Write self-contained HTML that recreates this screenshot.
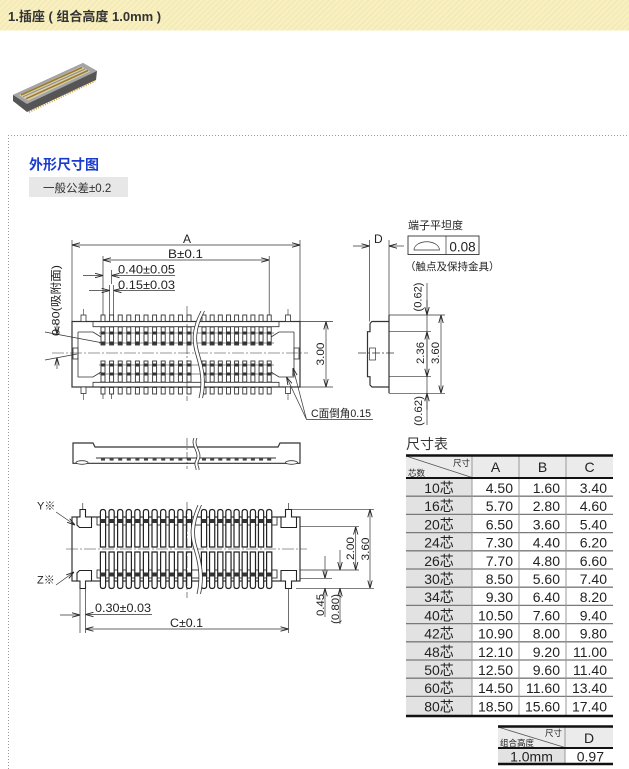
<!DOCTYPE html>
<html><head><meta charset="utf-8">
<style>
html,body{margin:0;padding:0;background:#fff;width:629px;height:769px;overflow:hidden}
svg{display:block}
.s{font-family:"Liberation Sans","Noto Sans CJK SC",sans-serif}
.m{font-family:"Liberation Sans","Noto Sans CJK SC",sans-serif}
</style></head><body>
<svg width="629" height="769" viewBox="0 0 629 769" xmlns="http://www.w3.org/2000/svg">
<defs>
<marker id="a" viewBox="0 0 8 6" refX="8" refY="3" markerWidth="8" markerHeight="6" markerUnits="userSpaceOnUse" orient="auto-start-reverse"><path d="M0,0.8 L8,3 L0,5.2" fill="none" stroke="#222" stroke-width="0.9"/></marker>
<pattern id="hs" width="4" height="4" patternUnits="userSpaceOnUse" patternTransform="rotate(45)"><rect width="4" height="4" fill="#f8f0c2"/><rect width="1.5" height="4" fill="#f3e9b3"/></pattern>
<g id="tp">
 <g fill="#fff" stroke="#333" stroke-width="0.9">
 <rect x="-2" y="315" width="4" height="6.5"/>
 <rect x="-2" y="327" width="4" height="18"/>
 <rect x="-2" y="361" width="4" height="21"/>
 <rect x="-2" y="387.5" width="4" height="6.5"/>
 </g>
 <g fill="#333">
 <rect x="-1.8" y="331.5" width="3.6" height="3"/>
 <rect x="-1.8" y="341.5" width="3.6" height="3"/>
 <rect x="-1.8" y="363.5" width="3.6" height="3"/>
 <rect x="-1.8" y="372.5" width="3.6" height="3"/>
 </g>
</g>
<g id="bp">
 <g fill="#fff" stroke="#222" stroke-width="1.2">
 <path d="M-2.6,547 V512 Q-2.6,509.5 0,509.5 Q2.6,509.5 2.6,512 V547 Z"/>
 <path d="M-2.6,552 V586 Q-2.6,588.5 0,588.5 Q2.6,588.5 2.6,586 V552 Z"/>
 </g>
 <g fill="#333">
 <rect x="-2.6" y="519" width="5.2" height="4"/>
 <rect x="-2.6" y="572.5" width="5.2" height="4"/>
 </g>
</g>
<g id="mp"><rect x="-2" y="458" width="4" height="2.6" fill="#444"/></g>
</defs>

<!-- header -->
<rect x="0" y="0" width="629" height="30.5" fill="url(#hs)"/>
<text x="8" y="21" class="s" font-size="13" font-weight="bold" fill="#333">1.插座 ( 组合高度 1.0mm )</text>

<!-- product image -->
<polygon points="13,95 83,63 97,71 96,80 27,112 13,101" fill="#555"/>
<polygon points="13,95 83,63 97,71 27,104" fill="#a5a5a5"/>
<polygon points="19,95 81,66.5 90,71.5 28,100.5" fill="#d9d0aa"/>
<path d="M21,95 L82,67.5" stroke="#9c7a2e" stroke-width="1.6"/>
<path d="M23,96.8 L85,69" stroke="#888" stroke-width="1"/>
<path d="M26,98.8 L88,70.5" stroke="#9c7a2e" stroke-width="1.6"/>
<path d="M29,112 L95,81" stroke="#c9a040" stroke-width="2" stroke-dasharray="1,1.5"/>

<!-- dotted frame -->
<path d="M8.5,769 V135.5 H629" fill="none" stroke="#999" stroke-width="1" stroke-dasharray="1,2"/>
<text x="29" y="169.5" class="s" font-size="14" font-weight="bold" fill="#1a3ccc">外形尺寸图</text>
<rect x="29" y="177" width="99" height="20" fill="#e7e7e7"/>
<text x="43" y="192" class="s" font-size="11.5" fill="#333">一般公差±0.2</text>

<!-- ================= TOP VIEW ================= -->
<g fill="none" stroke="#333" stroke-width="0.8">
 <rect x="72" y="321.5" width="228" height="65.5" stroke-width="1.2"/>
 <path d="M93,321.5 V326.7 H279 V321.5 M93,387 V382.3 H279 V387"/>
 <path d="M78,332 H93 L101,337 M78,332 V377 H93 L101,372"/>
 <path d="M294,332 H279 L271,337 M294,332 V377 H279 L271,372"/>
 <rect x="73" y="348" width="5" height="11"/>
 <rect x="294" y="348" width="5" height="11"/>
 <path d="M99,333 H274 M99,343 H274 M99,365 H274 M99,374 H274" stroke="#666"/>
</g>
<use href="#tp" x="103"/><use href="#tp" x="111.6"/><use href="#tp" x="120.2"/><use href="#tp" x="128.8"/><use href="#tp" x="137.4"/><use href="#tp" x="146"/><use href="#tp" x="154.6"/><use href="#tp" x="163.2"/><use href="#tp" x="171.8"/><use href="#tp" x="180.4"/><use href="#tp" x="189"/>
<use href="#tp" x="204"/><use href="#tp" x="212.15"/><use href="#tp" x="220.3"/><use href="#tp" x="228.45"/><use href="#tp" x="236.6"/><use href="#tp" x="244.75"/><use href="#tp" x="252.9"/><use href="#tp" x="261.05"/><use href="#tp" x="269.2"/>
<g fill="#fff" stroke="#333" stroke-width="0.8">
 <rect x="81" y="315" width="5" height="6.5"/><rect x="81" y="387" width="5" height="6.5"/>
 <rect x="285.5" y="315" width="5" height="6.5"/><rect x="285.5" y="387" width="5" height="6.5"/>
</g>
<path d="M83.5,309 V315 M83.5,393.5 V400 M288,309 V315 M288,393.5 V400" stroke="#333" stroke-width="0.6"/>
<path d="M52,353 H308 M187,306 V401" stroke="#333" stroke-width="0.6" stroke-dasharray="12,2,2,2" fill="none"/>
<path d="M201,311 C191,330 192,342 196,355 C200,368 203,382 199,398 L202.5,398 C206.5,382 203.5,368 199.5,355 C195.5,342 194.5,330 204.5,311 Z" fill="#fff"/>
<path d="M201,311 C191,330 192,342 196,355 C200,368 203,382 199,398 M204.5,311 C194.5,330 195.5,342 199.5,355 C203.5,368 206.5,382 202.5,398" fill="none" stroke="#333" stroke-width="0.8"/>

<!-- top view dims -->
<g stroke="#333" stroke-width="0.7" fill="none">
 <path d="M72,240 V321 M300,240 V321"/>
 <path d="M72,245 H300" marker-start="url(#a)" marker-end="url(#a)"/>
 <path d="M103,256 V315 M269.2,256 V315 M103,394 V399 M111.6,394 V399"/>
 <path d="M103,260 H269.2" marker-start="url(#a)" marker-end="url(#a)"/>
 <path d="M111.6,270 V284"/>
 <path d="M83,275.5 H103" marker-end="url(#a)"/>
 <path d="M175,275.5 H111.6" marker-end="url(#a)"/>
 <path d="M109.6,285 V315 M113.6,285 V315"/>
 <path d="M89,290.5 H109.6" marker-end="url(#a)"/>
 <path d="M175,290.5 H113.6" marker-end="url(#a)"/>
 <path d="M45,332 L103,343 M45,360 L77,354"/>
 <path d="M57,323 V334.3" marker-end="url(#a)"/>
 <path d="M57,369 V357.7" marker-end="url(#a)"/>
 <path d="M300,321.5 H333 M300,387 H333"/>
 <path d="M326,321.5 V387" marker-start="url(#a)" marker-end="url(#a)"/>
 <path d="M373,419.5 H306.5"/>
 <path d="M306.5,419.5 L293,368" marker-end="url(#a)"/>
 <path d="M306.5,419.5 L286.5,377" marker-end="url(#a)"/>
</g>
<g fill="#222">
 <text x="183" y="243" class="s" font-size="12">A</text>
 <text x="168" y="258" class="s" font-size="12" textLength="35" lengthAdjust="spacingAndGlyphs">B±0.1</text>
 <text x="118" y="273.5" class="m" font-size="11.5" textLength="57" lengthAdjust="spacingAndGlyphs">0.40±0.05</text>
 <text x="118" y="289" class="m" font-size="11.5" textLength="57" lengthAdjust="spacingAndGlyphs">0.15±0.03</text>
 <text transform="translate(59.5,336) rotate(-90)" class="m" font-size="11" textLength="71" lengthAdjust="spacingAndGlyphs">0.80(吸附面)</text>
 <text transform="translate(324,354) rotate(-90)" class="m" font-size="11" text-anchor="middle" textLength="23" lengthAdjust="spacingAndGlyphs">3.00</text>
 <text x="311" y="417" class="m" font-size="11" textLength="60" lengthAdjust="spacingAndGlyphs">C面倒角0.15</text>
</g>

<!-- ================= SIDE VIEW ================= -->
<g stroke="#333" stroke-width="0.7" fill="none">
 <path d="M369.5,240 V321.5 M389,240 V315"/>
 <path d="M353,246 H369.5" marker-end="url(#a)"/>
 <path d="M404,246 H389" marker-end="url(#a)"/>
 <path d="M370,323.5 L372,321.5 H389 M389,315 V393.3 M389,387 H372 L370,385 V376.7 H367.5 V331.7 H370 V323.5" stroke-width="1.2"/>
 <rect x="369.5" y="348" width="6" height="12"/>
 <path d="M389,315 H445 M389,393.3 H445 M389,331.7 H431 M389,376.7 H431"/>
 <path d="M358,353 H396" stroke-dasharray="8,2,2,2"/>
 <path d="M427,283 V425"/>
 <path d="M427,300 V315" marker-end="url(#a)"/>
 <path d="M427,331.7 V376.7" marker-start="url(#a)" marker-end="url(#a)"/>
 <path d="M427,410 V393.3" marker-end="url(#a)"/>
 <path d="M441,315 V393.3" marker-start="url(#a)" marker-end="url(#a)"/>
 <rect x="408" y="236" width="71" height="18.5" stroke-width="0.9"/>
 <path d="M446,236 V254.5"/>
 <path d="M414,250 A12.7,8.3 0 0 1 439.4,250 Z"/>
</g>
<g fill="#222">
 <text x="374" y="243" class="s" font-size="12">D</text>
 <text x="408" y="229" class="s" font-size="11">端子平坦度</text>
 <text x="462.5" y="251.5" class="s" font-size="13.5" text-anchor="middle">0.08</text>
 <text x="405" y="270" class="s" font-size="10.5">（触点及保持金具）</text>
 <text transform="translate(421.5,297) rotate(-90)" class="m" font-size="11" text-anchor="middle" textLength="29" lengthAdjust="spacingAndGlyphs">(0.62)</text>
 <text transform="translate(424,353) rotate(-90)" class="m" font-size="11" text-anchor="middle" textLength="22" lengthAdjust="spacingAndGlyphs">2.36</text>
 <text transform="translate(439,353) rotate(-90)" class="m" font-size="11" text-anchor="middle" textLength="22" lengthAdjust="spacingAndGlyphs">3.60</text>
 <text transform="translate(422,411) rotate(-90)" class="m" font-size="11" text-anchor="middle" textLength="30" lengthAdjust="spacingAndGlyphs">(0.62)</text>
</g>

<!-- ================= MIDDLE PROFILE ================= -->
<g stroke="#333" stroke-width="0.9" fill="none">
 <path d="M73,443 H93 L95,447 H278 L280,443 H300 V463.3 H73 Z" stroke-width="1.2"/>
 <path d="M96,458 H276"/>
</g>
<use href="#mp" x="103"/><use href="#mp" x="111.6"/><use href="#mp" x="120.2"/><use href="#mp" x="128.8"/><use href="#mp" x="137.4"/><use href="#mp" x="146"/><use href="#mp" x="154.6"/><use href="#mp" x="163.2"/><use href="#mp" x="171.8"/><use href="#mp" x="180.4"/><use href="#mp" x="189"/>
<use href="#mp" x="204"/><use href="#mp" x="212.15"/><use href="#mp" x="220.3"/><use href="#mp" x="228.45"/><use href="#mp" x="236.6"/><use href="#mp" x="244.75"/><use href="#mp" x="252.9"/><use href="#mp" x="261.05"/><use href="#mp" x="269.2"/>
<ellipse cx="82" cy="462.5" rx="6" ry="1.8" fill="#fff" stroke="#333" stroke-width="0.8"/>
<ellipse cx="291.5" cy="462.5" rx="6" ry="1.8" fill="#fff" stroke="#333" stroke-width="0.8"/>
<path d="M187,438 V469" stroke="#333" stroke-width="0.6" stroke-dasharray="8,2,2,2"/>
<path d="M194,438 C190,446 200,452 196,460 C193,465 197,468 196,470 L199,470 C200,468 196,465 199,460 C203,452 193,446 197,438 Z" fill="#fff"/>
<path d="M194,438 C190,446 200,452 196,460 C193,465 197,468 196,470 M197,438 C193,446 203,452 199,460 C196,465 200,468 199,470" fill="none" stroke="#333" stroke-width="0.8"/>

<!-- ================= BOTTOM VIEW ================= -->
<g fill="none" stroke="#333" stroke-width="0.9">
 <rect x="72" y="517" width="228" height="64" stroke-width="1.2"/>
 <rect x="97" y="517" width="180" height="8"/>
 <rect x="97" y="570" width="180" height="8"/>
</g>
<g fill="#fff" stroke="#222" stroke-width="1.1">
 <path d="M80,509.5 H85.5 V517 H91.5 V527.5 H79.5 L77,525 V517 H80 Z"/>
 <path d="M80,588.5 H85.5 V581 H91.5 V570.5 H79.5 L77,573 V581 H80 Z"/>
 <path d="M285.5,509.5 H291.5 V517 H296.5 V527.5 H281 V517 H285.5 Z"/>
 <path d="M285.5,588.5 H291.5 V581 H296.5 V570.5 H281 V581 H285.5 Z"/>
</g>
<use href="#bp" x="103"/><use href="#bp" x="111.6"/><use href="#bp" x="120.2"/><use href="#bp" x="128.8"/><use href="#bp" x="137.4"/><use href="#bp" x="146"/><use href="#bp" x="154.6"/><use href="#bp" x="163.2"/><use href="#bp" x="171.8"/><use href="#bp" x="180.4"/><use href="#bp" x="189"/>
<use href="#bp" x="204"/><use href="#bp" x="212.15"/><use href="#bp" x="220.3"/><use href="#bp" x="228.45"/><use href="#bp" x="236.6"/><use href="#bp" x="244.75"/><use href="#bp" x="252.9"/><use href="#bp" x="261.05"/><use href="#bp" x="269.2"/>
<path d="M66,549 H307 M187,502 V598" stroke="#333" stroke-width="0.6" stroke-dasharray="12,2,2,2" fill="none"/>
<path d="M198,505 C189,525 190,537 194,549 C198,562 201,577 197,594 L200.5,594 C204.5,577 201.5,562 197.5,549 C193.5,537 192.5,525 201.5,505 Z" fill="#fff"/>
<path d="M198,505 C189,525 190,537 194,549 C198,562 201,577 197,594 M201.5,505 C192.5,525 193.5,537 197.5,549 C201.5,562 204.5,577 200.5,594" fill="none" stroke="#333" stroke-width="0.8"/>
<g stroke="#333" stroke-width="0.7" fill="none">
 <path d="M82.75,503 V509.5 M288.5,503 V509.5 M288.5,588.5 V633"/>
 <path d="M80,581 V633 M85.5,581 V633"/>
 <path d="M60,615 H80" marker-end="url(#a)"/>
 <path d="M152,614.5 H85.5" marker-end="url(#a)"/>
 <path d="M85.5,629 H288.5" marker-start="url(#a)" marker-end="url(#a)"/>
 <path d="M291,509.3 H374 M296,588.3 H374 M300,526.7 H359 M300,570 H359 M300,578.3 H332"/>
 <path d="M370,509.3 V588.3" marker-start="url(#a)" marker-end="url(#a)"/>
 <path d="M355.7,526.7 V570" marker-start="url(#a)" marker-end="url(#a)"/>
 <path d="M325,556 V578.3" marker-end="url(#a)"/>
 <path d="M325,617 V588.3" marker-end="url(#a)"/>
 <path d="M340,550 V570" marker-end="url(#a)"/>
 <path d="M340,624 V588.3" marker-end="url(#a)"/>
 <path d="M56,512 L75,525" marker-end="url(#a)"/>
 <path d="M56,585 L74,572" marker-end="url(#a)"/>
</g>
<g fill="#222">
 <text x="37" y="509.5" class="s" font-size="11">Y※</text>
 <text x="37" y="583.5" class="s" font-size="11">Z※</text>
 <text x="95" y="612" class="m" font-size="11.5" textLength="56" lengthAdjust="spacingAndGlyphs">0.30±0.03</text>
 <text x="170" y="627" class="s" font-size="12" textLength="33" lengthAdjust="spacingAndGlyphs">C±0.1</text>
 <text transform="translate(369,549) rotate(-90)" class="m" font-size="11" text-anchor="middle" textLength="23" lengthAdjust="spacingAndGlyphs">3.60</text>
 <text transform="translate(354,548.5) rotate(-90)" class="m" font-size="11" text-anchor="middle" textLength="23" lengthAdjust="spacingAndGlyphs">2.00</text>
 <text transform="translate(324,605) rotate(-90)" class="m" font-size="11" text-anchor="middle" textLength="22" lengthAdjust="spacingAndGlyphs">0.45</text>
 <text transform="translate(339,609) rotate(-90)" class="m" font-size="11" text-anchor="middle" textLength="30" lengthAdjust="spacingAndGlyphs">(0.80)</text>
</g>

<!-- ================= TABLE 1 ================= -->
<text x="406" y="449" class="s" font-size="14" fill="#333">尺寸表</text>
<rect x="406" y="455" width="207" height="23" fill="#ebebeb"/>
<rect x="406" y="478" width="66" height="238" fill="#e2e2e2"/>
<g stroke="#7a7a7a" stroke-width="1.3">
 <path d="M406,496.2 H613 M406,514.4 H613 M406,532.6 H613 M406,550.8 H613 M406,569 H613 M406,587.2 H613 M406,605.4 H613 M406,623.6 H613 M406,641.8 H613 M406,660 H613 M406,678.2 H613 M406,696.4 H613"/>
</g>
<path d="M472,455 V716 M519,455 V716 M566,455 V716" stroke="#999" stroke-width="1"/>
<path d="M406,456 L472,477.5" stroke="#555" stroke-width="0.8"/>
<path d="M406,455.5 H613" stroke="#111" stroke-width="2.5"/>
<path d="M406,478 H613" stroke="#111" stroke-width="2"/>
<path d="M406,716 H613" stroke="#111" stroke-width="2.5"/>
<g class="s" fill="#222">
 <text x="453" y="466" font-size="8.5">尺寸</text>
 <text x="408" y="476" font-size="8.5">芯数</text>
 <g font-size="14" text-anchor="middle">
  <text x="495.5" y="472">A</text><text x="542.5" y="472">B</text><text x="589.5" y="472">C</text>
 </g>
 <g font-size="14" text-anchor="middle">
  <text x="439" y="493">10芯</text><text x="439" y="511.2">16芯</text><text x="439" y="529.4">20芯</text><text x="439" y="547.6">24芯</text><text x="439" y="565.8">26芯</text><text x="439" y="584">30芯</text><text x="439" y="602.2">34芯</text><text x="439" y="620.4">40芯</text><text x="439" y="638.6">42芯</text><text x="439" y="656.8">48芯</text><text x="439" y="675">50芯</text><text x="439" y="693.2">60芯</text><text x="439" y="711.4">80芯</text>
 </g>
 <g font-size="14" text-anchor="end">
  <text x="513" y="493">4.50</text><text x="560" y="493">1.60</text><text x="607" y="493">3.40</text>
  <text x="513" y="511.2">5.70</text><text x="560" y="511.2">2.80</text><text x="607" y="511.2">4.60</text>
  <text x="513" y="529.4">6.50</text><text x="560" y="529.4">3.60</text><text x="607" y="529.4">5.40</text>
  <text x="513" y="547.6">7.30</text><text x="560" y="547.6">4.40</text><text x="607" y="547.6">6.20</text>
  <text x="513" y="565.8">7.70</text><text x="560" y="565.8">4.80</text><text x="607" y="565.8">6.60</text>
  <text x="513" y="584">8.50</text><text x="560" y="584">5.60</text><text x="607" y="584">7.40</text>
  <text x="513" y="602.2">9.30</text><text x="560" y="602.2">6.40</text><text x="607" y="602.2">8.20</text>
  <text x="513" y="620.4">10.50</text><text x="560" y="620.4">7.60</text><text x="607" y="620.4">9.40</text>
  <text x="513" y="638.6">10.90</text><text x="560" y="638.6">8.00</text><text x="607" y="638.6">9.80</text>
  <text x="513" y="656.8">12.10</text><text x="560" y="656.8">9.20</text><text x="607" y="656.8">11.00</text>
  <text x="513" y="675">12.50</text><text x="560" y="675">9.60</text><text x="607" y="675">11.40</text>
  <text x="513" y="693.2">14.50</text><text x="560" y="693.2">11.60</text><text x="607" y="693.2">13.40</text>
  <text x="513" y="711.4">18.50</text><text x="560" y="711.4">15.60</text><text x="607" y="711.4">17.40</text>
 </g>
</g>

<!-- ================= TABLE 2 ================= -->
<rect x="498" y="726" width="115" height="22" fill="#ebebeb"/>
<rect x="498" y="748" width="67" height="16" fill="#e2e2e2"/>
<rect x="565" y="748" width="48" height="16" fill="#fff"/>
<path d="M565,726 V764" stroke="#999" stroke-width="1"/>
<path d="M498,727 L565,747.5" stroke="#555" stroke-width="0.8"/>
<path d="M498,726.5 H613" stroke="#111" stroke-width="2.5"/>
<path d="M498,748 H613" stroke="#111" stroke-width="2"/>
<path d="M498,764 H613" stroke="#111" stroke-width="2.5"/>
<g class="s" fill="#222">
 <text x="545" y="736" font-size="8.5">尺寸</text>
 <text x="500" y="746" font-size="8.5">组合高度</text>
 <text x="589" y="743" font-size="14" text-anchor="middle">D</text>
 <text x="531.5" y="761.5" font-size="14" text-anchor="middle">1.0mm</text>
 <text x="604" y="761.5" font-size="14" text-anchor="end">0.97</text>
</g>
</svg>
</body></html>
